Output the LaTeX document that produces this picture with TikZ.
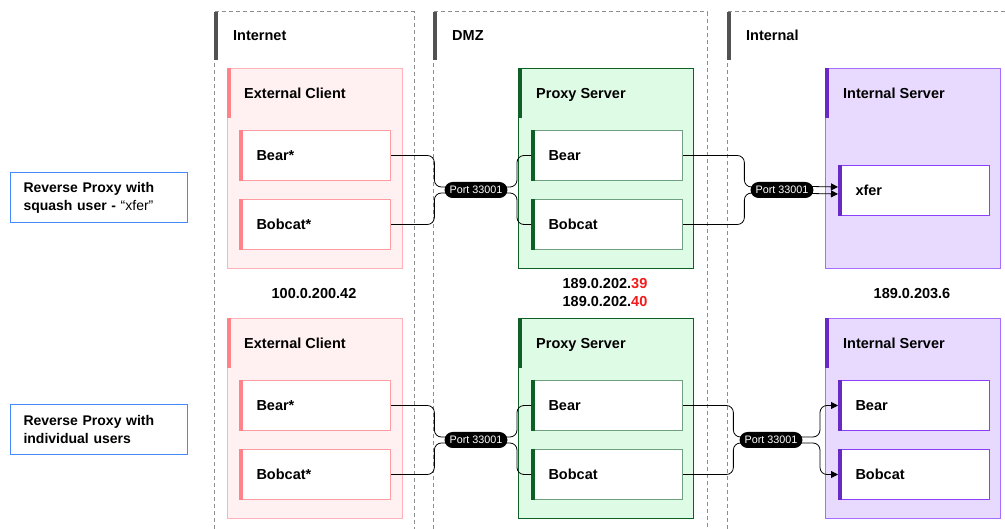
\documentclass[tikz,border=0pt]{standalone}
\usepackage{fontspec}
\setmainfont{Liberation Sans}
\usetikzlibrary{arrows.meta}
\definecolor{pinkfill}{HTML}{FFF0F1}
\definecolor{pinkline}{HTML}{FFB3B8}
\definecolor{pinkbar}{HTML}{FF8389}
\definecolor{greenfill}{HTML}{DEFBE6}
\definecolor{greenline}{HTML}{0E6027}
\definecolor{greeninner}{HTML}{6FA07F}
\definecolor{purplefill}{HTML}{E8DAFF}
\definecolor{purpleline}{HTML}{A56EFF}
\definecolor{purplebar}{HTML}{6929C4}
\definecolor{purpleinner}{HTML}{8A3FFC}
\definecolor{zonebar}{HTML}{525252}
\definecolor{zonedash}{HTML}{8D8D8D}
\definecolor{noteblue}{HTML}{4589FF}
\definecolor{ipred}{HTML}{F21B1B}
\tikzset{
  zoneline/.style={draw=zonedash, line width=1pt, dash pattern=on 4pt off 3pt},
  container/.style={minimum width=175pt, minimum height=200pt, inner sep=0pt, anchor=north west, line width=1pt},
  client/.style={container, fill=pinkfill, draw=pinkline},
  proxy/.style={container, fill=greenfill, draw=greenline, line width=0.8pt},
  internal/.style={container, fill=purplefill, draw=purpleline},
  item/.style={anchor=north west, fill=white, text width=117pt, inner xsep=17pt, inner ysep=0pt,
    minimum height=50pt, align=left, font=\bfseries\fontsize{14.5}{16}\selectfont, line width=1pt},
  clientitem/.style={item, draw=pinkbar!80},
  proxyitem/.style={item, draw=greeninner},
  internalitem/.style={item, draw=purpleinner},
  lbl/.style={font=\bfseries\fontsize{14.5}{18}\selectfont, inner sep=0pt},
  note/.style={anchor=north west, draw=noteblue, line width=1pt, minimum width=177pt, minimum height=50pt,
    text width=151pt, inner xsep=13pt, inner ysep=0pt, align=left, font=\bfseries\fontsize{14}{18}\selectfont},
  port/.style={fill=black, text=white, rounded corners=8pt, font=\fontsize{10.8}{12}\selectfont,
    inner xsep=5pt, inner ysep=0pt, minimum height=16pt},
  conn/.style={draw=black, line width=0.8pt, rounded corners=7pt},
  arr/.style={conn, -{Triangle[length=7pt,width=7pt]}},
}
\begin{document}
\begin{tikzpicture}[x=1pt,y=-1pt]
\useasboundingbox (0,0) rectangle (1005,529);
% zones
\draw[zoneline] (214,529) -- (214,12) -- (414,12) -- (414,529);
\draw[zoneline] (433,529) -- (433,12) -- (707,12) -- (707,529);
\draw[zoneline] (727,529) -- (727,12) -- (1005,12);
\fill[zonebar] (214,12) rectangle (218,60);
\fill[zonebar] (433,12) rectangle (437,60);
\fill[zonebar] (727,12) rectangle (731,60);
\node[lbl, anchor=base west] (zinet) at (233,41) {Internet};
\node[lbl, anchor=base west] (zdmz) at (452,41) {DMZ};
\node[lbl, anchor=base west] (zint) at (746,41) {Internal};

% notes
\node[note] (n1) at (10,172) {Reverse Proxy with\\squash user - {\mdseries “xfer”}};
\node[note] (n2) at (10,404) {Reverse Proxy with\\individual users};

% containers
\node[client] (c1) at (227,68) {};
\node[client] (c2) at (227,318) {};
\node[proxy] (s1) at (518,68) {};
\node[proxy] (s2) at (518,318) {};
\node[internal] (i1) at (825,68) {};
\node[internal] (i2) at (825,318) {};
\foreach \n/\c in {c1/pinkbar,c2/pinkbar,s1/greenline,s2/greenline,i1/purplebar,i2/purplebar}
  \fill[\c] (\n.north west) rectangle ([xshift=4pt,yshift=-50pt]\n.north west);
\node[lbl, anchor=base west] (t1) at (244,99) {External Client};
\node[lbl, anchor=base west] (t2) at (244,349) {External Client};
\node[lbl, anchor=base west] (t3) at (536,99) {Proxy Server};
\node[lbl, anchor=base west] (t4) at (536,349) {Proxy Server};
\node[lbl, anchor=base west] (t5) at (843,99) {Internal Server};
\node[lbl, anchor=base west] (t6) at (843,349) {Internal Server};

% IP labels
\node[lbl, anchor=base] (ip1) at (314,299) {100.0.200.42};
\node[lbl, anchor=base] (ip2a) at (605,289) {189.0.202.\textcolor{ipred}{39}};
\node[lbl, anchor=base] (ip2b) at (605,307) {189.0.202.\textcolor{ipred}{40}};
\node[lbl, anchor=base] (ip3) at (912,299) {189.0.203.6};

% items
\node[clientitem] (cb1) at (239,130) {Bear*};
\node[clientitem] (cc1) at (239,199) {Bobcat*};
\node[clientitem] (cb2) at (239,380) {Bear*};
\node[clientitem] (cc2) at (239,449) {Bobcat*};
\node[proxyitem] (pb1) at (531,130) {Bear};
\node[proxyitem] (pc1) at (531,199) {Bobcat};
\node[proxyitem] (pb2) at (531,380) {Bear};
\node[proxyitem] (pc2) at (531,449) {Bobcat};
\node[internalitem] (xf) at (838,165) {xfer};
\node[internalitem] (ib2) at (838,380) {Bear};
\node[internalitem] (ic2) at (838,449) {Bobcat};
\foreach \n/\c in {cb1/pinkbar,cc1/pinkbar,cb2/pinkbar,cc2/pinkbar,pb1/greenline,pc1/greenline,pb2/greenline,pc2/greenline,xf/purplebar,ib2/purplebar,ic2/purplebar}
  \fill[\c] (\n.north west) rectangle ([xshift=4pt]\n.south west);

% ports
\node[port] (p1) at (476,190) {Port 33001};
\node[port] (p2) at (782,190) {Port 33001};
\node[port] (p3) at (476,440) {Port 33001};
\node[port] (p4) at (771,440) {Port 33001};

% connectors top
\draw[conn] (cb1.east) -| ([xshift=-10pt,yshift=3pt]p1.west) -- ([xshift=3pt,yshift=3pt]p1.west);
\draw[conn] (cc1.east) -| ([xshift=-10pt,yshift=-3pt]p1.west) -- ([xshift=3pt,yshift=-3pt]p1.west);
\draw[conn] ([xshift=-3pt,yshift=3pt]p1.east) -| ([xshift=-14pt]pb1.west) -- (pb1.west);
\draw[conn] ([xshift=-3pt,yshift=-3pt]p1.east) -| ([xshift=-14pt]pc1.west) -- (pc1.west);
\draw[conn] (pb1.east) -| ([xshift=-6pt,yshift=3pt]p2.west) -- ([xshift=3pt,yshift=3pt]p2.west);
\draw[conn] (pc1.east) -| ([xshift=-6pt,yshift=-3pt]p2.west) -- ([xshift=3pt,yshift=-3pt]p2.west);
\draw[arr] ([xshift=-3pt,yshift=3.5pt]p2.east) -- ([yshift=3.5pt]xf.west);
\draw[arr] ([xshift=-3pt,yshift=-3.5pt]p2.east) -- ([yshift=-3.5pt]xf.west);

% connectors bottom
\draw[conn] (cb2.east) -| ([xshift=-10pt,yshift=3pt]p3.west) -- ([xshift=3pt,yshift=3pt]p3.west);
\draw[conn] (cc2.east) -| ([xshift=-10pt,yshift=-3pt]p3.west) -- ([xshift=3pt,yshift=-3pt]p3.west);
\draw[conn] ([xshift=-3pt,yshift=3pt]p3.east) -| ([xshift=-14pt]pb2.west) -- (pb2.west);
\draw[conn] ([xshift=-3pt,yshift=-3pt]p3.east) -| ([xshift=-14pt]pc2.west) -- (pc2.west);
\draw[conn] (pb2.east) -| ([xshift=-6pt,yshift=3pt]p4.west) -- ([xshift=3pt,yshift=3pt]p4.west);
\draw[conn] (pc2.east) -| ([xshift=-6pt,yshift=-3pt]p4.west) -- ([xshift=3pt,yshift=-3pt]p4.west);
\draw[arr] ([xshift=-3pt,yshift=3pt]p4.east) -| ([xshift=-18pt]ib2.west) -- (ib2.west);
\draw[arr] ([xshift=-3pt,yshift=-3pt]p4.east) -| ([xshift=-18pt]ic2.west) -- (ic2.west);
\end{tikzpicture}
\end{document}
